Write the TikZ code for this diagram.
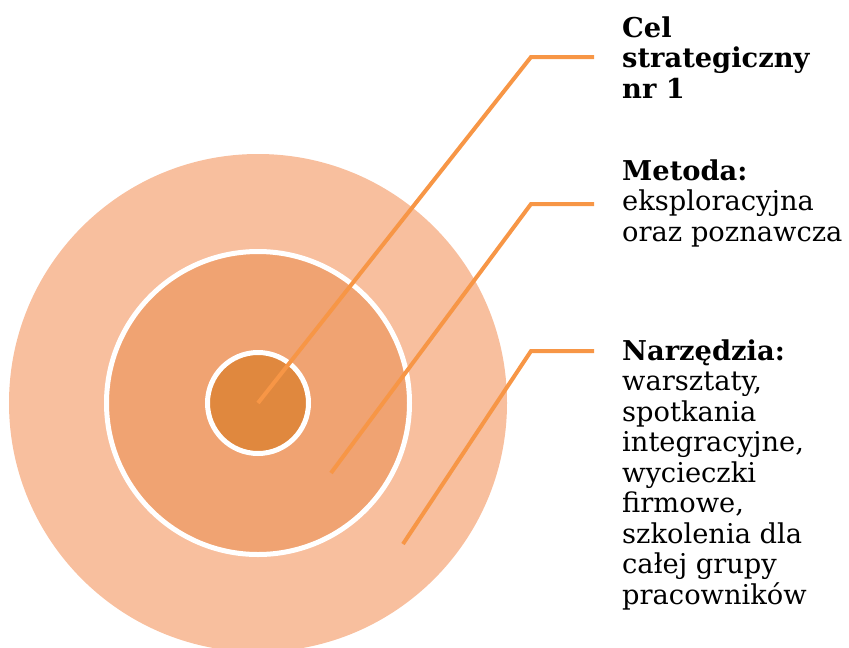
\documentclass[tikz,border=0pt]{standalone}
\usepackage{fontspec}
\setmainfont{DejaVu Serif}
\definecolor{ringout}{HTML}{F8BF9E}
\definecolor{ringmid}{HTML}{F0A372}
\definecolor{ringin}{HTML}{E0883E}
\definecolor{leader}{HTML}{F79646}
\begin{document}
\begin{tikzpicture}[x=1pt,y=-1pt,
  leaderline/.style={draw=leader,line width=4pt},
  lbl/.style={anchor=base west,inner sep=0pt,align=left,font=\fontsize{27.3}{30.5}\selectfont}]
\useasboundingbox (0,0) rectangle (849,648);
\clip (0,0) rectangle (849,648);
\fill[ringout] (258,403) circle[radius=249];
\filldraw[fill=ringmid,draw=white,line width=5pt] (258,403) circle[radius=151.5];
\filldraw[fill=ringin,draw=white,line width=5pt] (258,403) circle[radius=50.5];
\coordinate (p1) at (258,403);
\coordinate (k1) at (531,57);
\coordinate (e1) at (594,57);
\coordinate (p2) at (331,473);
\coordinate (k2) at (531,204);
\coordinate (e2) at (594,204);
\coordinate (p3) at (403,544);
\coordinate (k3) at (531,351);
\coordinate (e3) at (594,351);
\draw[leaderline] (p1) -- (k1) -- (e1);
\draw[leaderline] (p2) -- (k2) -- (e2);
\draw[leaderline] (p3) -- (k3) -- (e3);
% base anchor of a multi-line node = baseline of its last line
\node[lbl] (t1) at (622,98) {\textbf{Cel}\\\textbf{strategiczny}\\\textbf{nr 1}};
\node[lbl] (t2) at (622,241) {\textbf{Metoda:}\\eksploracyjna\\oraz poznawcza};
\node[lbl] (t3) at (622,604) {\textbf{Narzędzia:}\\warsztaty,\\spotkania\\integracyjne,\\wycieczki\\firmowe,\\szkolenia dla\\całej grupy\\pracowników};
\end{tikzpicture}
\end{document}
